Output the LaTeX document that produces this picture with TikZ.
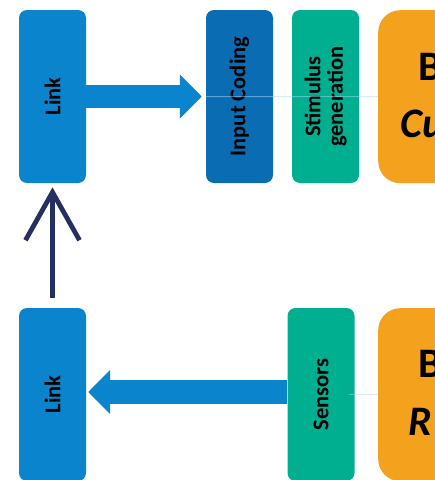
\documentclass[tikz,border=0pt]{standalone}
\usepackage{fontspec}
\setmainfont{Carlito}
\usetikzlibrary{arrows.meta,calc}
\definecolor{linkblue}{HTML}{0A84CC}
\definecolor{codeblue}{HTML}{0A6DB4}
\definecolor{teal}{HTML}{00AE90}
\definecolor{orangebox}{HTML}{F4A11D}
\definecolor{navy}{HTML}{262F5F}
\definecolor{faint}{HTML}{A9D9F0}
\tikzset{
  vbox/.style={rotate=90, rounded corners=8pt, minimum width=173pt, minimum height=67pt,
    inner sep=0pt, align=center, font=\bfseries\fontsize{22.5}{22.5}\selectfont, text=black},
  obox/.style={fill=orangebox, rounded corners=22pt, minimum width=140pt, minimum height=173pt, inner sep=0pt},
  bigarrow/.style={draw=linkblue, line width=23.5pt, -{Triangle[width=43pt,length=22pt]}},
  faintline/.style={draw=faint, line width=1pt, opacity=0.5},
  otext/.style={anchor=base west, inner sep=0pt, font=\bfseries\fontsize{42}{46}\selectfont, text=black},
  uparrow/.style={draw=navy, line width=4.8pt}
}
\begin{document}
\begin{tikzpicture}[x=1pt,y=-1pt]
\useasboundingbox (0,0) rectangle (435,480);
\clip (0,0) rectangle (435,480);
% top row
\node[vbox, fill=linkblue] (link1) at (52.5,96.5) {Link};
\node[vbox, fill=codeblue] (ic) at (239.5,96.5) {Input Coding};
\node[vbox, fill=teal] (stim) at (325.5,96.5) {Stimulus\\generation};
\node[obox, anchor=north west] (or1) at (378,10) {};
\node[otext] (b1) at (418,80) {B};
\node[otext, font=\bfseries\itshape\fontsize{42}{46}\selectfont] (cu) at (400,137) {Cu};
% bottom row
\node[vbox, fill=linkblue] (link2) at (52.5,394.5) {Link};
\node[vbox, fill=teal] (sens) at (321,394.5) {Sensors};
\node[obox, anchor=north west] (or2) at (378,308) {};
\node[otext] (b2) at (418,377) {B};
\node[otext, font=\bfseries\itshape\fontsize{42}{46}\selectfont] (r2) at (408,435) {R};
% faint lines
\draw[faintline] (ic.north) -- (or1.west);
\draw[faintline] ([xshift=-6pt]sens.south |- or2.west) -- (or2.west);
% big arrows
\draw[bigarrow, shorten >=4pt] (link1.south) -- (ic.north);
\draw[bigarrow, shorten >=2pt] (sens.north |- 0,392) -- (link2.south |- 0,392);
% navy arrow
\coordinate (tip) at ($(link1.west)+(0,9)$);
\coordinate (tail) at ($(link2.east)+(0,-10)$);
\draw[uparrow] (tail) -- (tip);
\draw[uparrow, line join=miter] ($(tip)+(-27,48)$) -- (tip) -- ($(tip)+(27,48)$);
\end{tikzpicture}
\end{document}
